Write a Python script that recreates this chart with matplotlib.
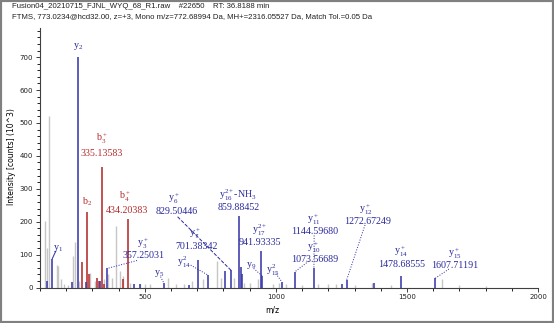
import matplotlib
matplotlib.use('Agg')
import matplotlib.pyplot as plt
from matplotlib.patches import Rectangle
from matplotlib.ticker import MultipleLocator

plt.rcParams['mathtext.fontset'] = 'custom'
plt.rcParams['mathtext.rm'] = 'Liberation Serif'
plt.rcParams['mathtext.it'] = 'Liberation Serif:italic'

BLUE = '#2a2a9c'
BLUE_PEAK = '#3a3aaa'
RED = '#b52b2b'
GRAY = '#c6c6c6'

# unassigned peaks
gray_mz = [119, 126, 135, 164, 170, 181, 190, 205, 226, 232, 250, 290, 310, 345, 360, 375,
           390, 405, 415, 445, 480, 500, 520, 587, 620, 650, 680, 720, 774, 790, 840, 880,
           902, 930, 990, 1010, 1040, 1100, 1160, 1200, 1230, 1300, 1366, 1440, 1635, 1700, 1800]
gray_int = [202, 119, 520, 67, 65, 27, 10, 8, 97, 137, 20, 45, 20, 25, 40, 30,
            187, 50, 35, 15, 10, 10, 12, 30, 10, 12, 20, 25, 80, 30, 30, 15,
            15, 25, 10, 15, 10, 8, 10, 10, 12, 8, 15, 8, 25, 8, 5]

# y ions
blue_mz = [128, 147, 223, 244, 277, 330, 357, 459, 480, 572, 667, 701, 740, 806, 829,
           861, 866, 870, 942, 948, 1022, 1073, 1145, 1253, 1270, 1375, 1478, 1608]
blue_int = [20, 88, 17, 700, 18, 20, 58, 12, 10, 14, 8, 85, 38, 50, 52,
            218, 62, 40, 110, 35, 18, 48, 60, 10, 23, 15, 34, 28]

# b ions
red_mz = [260, 278, 286, 316, 325, 335, 343, 418, 434]
red_int = [79, 228, 40, 30, 20, 367, 10, 25, 209]

# annotations: label, position, colour
ann_text = ['y$_2$', 'b$_3^+$', '335.13583', 'b$_2$', 'b$_4^+$', '434.20383',
            'y$_6^+$', '829.50446', 'y$_1$', 'y$_3^+$', '357.25031', 'y$_5$',
            'y$_{14}^{2}$', 'y$_7^+$', '701.38342', 'y$_{16}^{2+}$-NH$_3$', '859.88452',
            'y$_{17}^{2+}$', '941.93335', 'y$_9$', 'y$_{15}^{2}$',
            'y$_{11}^+$', '1144.59680', 'y$_{10}^+$', '1073.56689',
            'y$_{12}^+$', '1272.67249', 'y$_{14}^+$', '1478.68555', 'y$_{15}^+$', '1607.71191']
ann_x = [246, 335, 335, 280, 424, 433,
         609, 622, 168, 494, 494, 555,
         650, 692, 698, 857, 857,
         936, 940, 904, 990,
         1146, 1146, 1146, 1146,
         1344, 1348, 1478, 1478, 1684, 1684]
ann_y = [732, 453, 408, 260, 276, 235,
         268, 230, 119, 134, 98, 43,
         77, 162, 124, 281, 243,
         174, 137, 68, 51,
         205, 169, 122, 85,
         237, 200, 108, 70, 101, 66]
ann_red = {'b$_3^+$', '335.13583', 'b$_2$', 'b$_4^+$', '434.20383'}

# leader lines: (label side) -> (peak top)
lead_from = [(160, 110), (470, 82), (560, 33), (625, 215), (675, 68), (915, 58),
             (1000, 42), (1125, 80), (1146, 158), (1340, 190), (1660, 56)]
lead_to = [(147, 88), (357, 58), (572, 14), (829, 52), (740, 38), (948, 35),
           (1022, 18), (1073, 48), (1145, 60), (1270, 23), (1608, 28)]
lead_style = ['-', ':', ':', '--', ':', ':', ':', ':', ':', ':', ':']

fig = plt.figure(figsize=(5.54, 3.23), dpi=100)
ax = fig.add_axes([40 / 554, 35.5 / 323, 498 / 554, 260 / 323])

ax.vlines(gray_mz, 0, gray_int, color=GRAY, lw=1.0)
ax.vlines(red_mz, 0, red_int, color=RED, lw=1.15)
ax.vlines(blue_mz, 0, blue_int, color=BLUE_PEAK, lw=1.15)

for (x0, y0), (x1, y1), ls in zip(lead_from, lead_to, lead_style):
    ax.plot([x0, x1], [y0, y1], color=BLUE, lw=0.7, ls=ls)

for t, x, y in zip(ann_text, ann_x, ann_y):
    ax.text(x, y, t, ha='center', va='center', fontsize=7.2,
            family='Liberation Serif', color=RED if t in ann_red else BLUE)

ax.set_xlim(100, 2000)
ax.set_ylim(0, 790)
ax.xaxis.set_major_locator(MultipleLocator(500))
ax.xaxis.set_minor_locator(MultipleLocator(100))
ax.yaxis.set_major_locator(MultipleLocator(100))
ax.yaxis.set_minor_locator(MultipleLocator(20))
ax.tick_params(which='both', labelsize=5, width=0.6, direction='out', pad=2)
ax.tick_params(which='major', length=3)
ax.tick_params(which='minor', length=2)
for s in ['top', 'right']:
    ax.spines[s].set_visible(False)
for s in ['left', 'bottom']:
    ax.spines[s].set_linewidth(0.8)
    ax.spines[s].set_color('#404040')
ax.tick_params(colors='#202020')

fig.text(272 / 554, 1 - 310 / 323, 'm/z', fontsize=5.5, ha='center', va='center')
fig.text(12 / 554, 1 - 157 / 323, 'Intensity [counts] (10^3)', fontsize=5.5,
         rotation=90, ha='center', va='center')

fig.text(12 / 554, 1 - 7 / 323,
         'Fusion04_20210715_FJNL_WYQ_68_R1.raw    #22650    RT: 36.8188 min',
         fontsize=5.6, family='Liberation Sans', va='center', color='#202020')
fig.text(12 / 554, 1 - 17 / 323,
         'FTMS, 773.0234@hcd32.00, z=+3, Mono m/z=772.68994 Da, MH+=2316.05527 Da, Match Tol.=0.05 Da',
         fontsize=5.6, family='Liberation Sans', va='center', color='#202020')

fig.patches.append(Rectangle((0, 0), 1, 1, transform=fig.transFigure, fill=False,
                             edgecolor='#808080', lw=3))

fig.savefig('out.png', dpi=100)
